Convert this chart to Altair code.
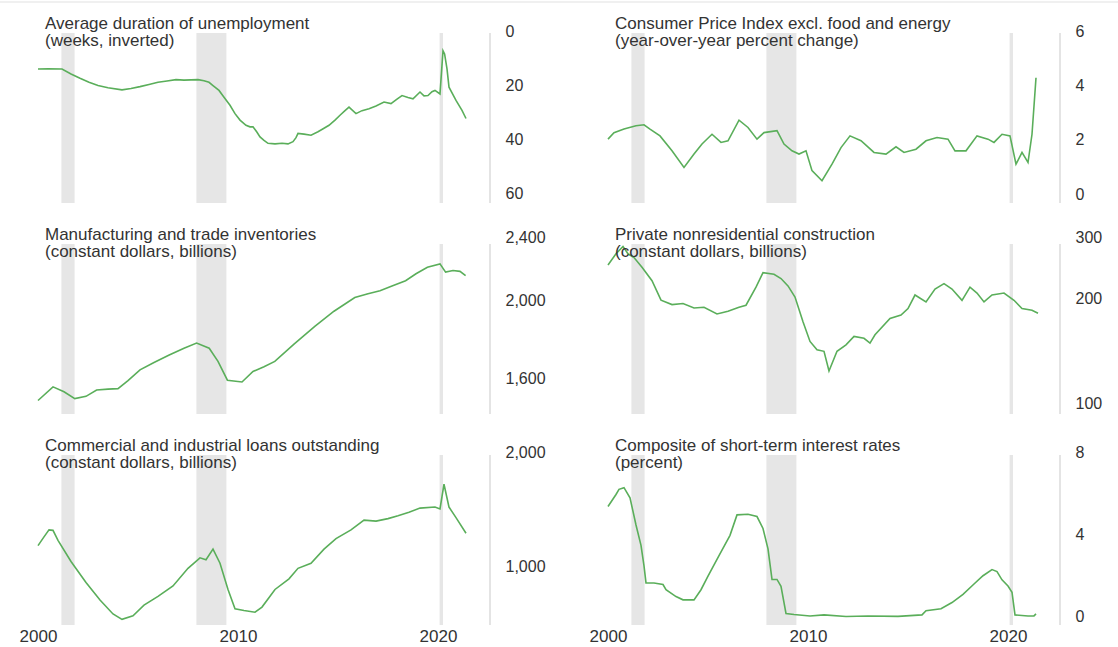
import altair as alt
import pandas as pd

# ---------------- data ----------------
rec_start = [2001.17, 2007.92, 2020.08]
rec_end = [2001.83, 2009.42, 2020.25]

titles = [
    ("Average duration of unemployment", "(weeks, inverted)"),
    ("Consumer Price Index excl. food and energy", "(year-over-year percent change)"),
    ("Manufacturing and trade inventories", "(constant dollars, billions)"),
    ("Private nonresidential construction", "(constant dollars, billions)"),
    ("Commercial and industrial loans outstanding", "(constant dollars, billions)"),
    ("Composite of short-term interest rates", "(percent)"),
]

duration = [(2000.0, 14.1), (2000.5, 14.0), (2001.2, 14.1), (2001.65, 15.9), (2002.1, 17.5),
            (2002.55, 19.0), (2003.0, 20.2), (2003.5, 21.0), (2004.2, 21.8), (2004.65, 21.3),
            (2005.1, 20.6), (2005.55, 19.8), (2006.0, 19.0), (2006.45, 18.5), (2006.9, 18.0),
            (2007.3, 18.2), (2007.65, 18.1), (2008.0, 18.0), (2008.3, 18.4), (2008.55, 19.0),
            (2008.75, 20.2), (2009.05, 22.0), (2009.3, 24.5), (2009.6, 27.5), (2009.85, 30.6),
            (2010.1, 33.0), (2010.4, 34.9), (2010.6, 35.5), (2010.75, 35.5), (2010.95, 37.5),
            (2011.1, 39.2), (2011.3, 40.5), (2011.5, 41.6), (2011.85, 41.8), (2012.2, 41.6),
            (2012.5, 41.8), (2012.75, 41.0), (2012.9, 39.5), (2013.0, 37.9), (2013.3, 38.2),
            (2013.65, 38.6), (2014.0, 37.3), (2014.3, 36.0), (2014.55, 34.9), (2014.85, 33.0),
            (2015.1, 31.2), (2015.35, 29.5), (2015.55, 28.2), (2015.9, 30.6), (2016.2, 29.5),
            (2016.55, 28.8), (2016.9, 27.8), (2017.3, 26.3), (2017.65, 26.9), (2017.95, 25.2),
            (2018.2, 23.9), (2018.5, 24.6), (2018.75, 25.1), (2019.1, 22.6), (2019.3, 24.0),
            (2019.5, 23.9), (2019.7, 22.5), (2019.85, 22.0), (2020.1, 23.3), (2020.25, 7.3),
            (2020.33, 8.5), (2020.45, 14.0), (2020.55, 20.8), (2020.9, 25.7), (2021.2, 29.4),
            (2021.4, 32.4)]

core_cpi = [(2000.0, 2.02), (2000.3, 2.26), (2000.8, 2.39), (2001.4, 2.51), (2001.8, 2.55),
            (2002.1, 2.39), (2002.6, 2.14), (2003.2, 1.59), (2003.8, 0.98), (2004.3, 1.47),
            (2004.7, 1.84), (2005.2, 2.2), (2005.65, 1.9), (2006.0, 1.96), (2006.55, 2.72),
            (2007.0, 2.45), (2007.45, 2.02), (2007.8, 2.26), (2008.45, 2.33), (2008.8, 1.84),
            (2009.2, 1.59), (2009.55, 1.47), (2009.9, 1.59), (2010.2, 0.86), (2010.7, 0.49),
            (2011.2, 1.1), (2011.65, 1.71), (2012.1, 2.14), (2012.65, 1.96), (2013.3, 1.53),
            (2013.9, 1.47), (2014.4, 1.74), (2014.8, 1.53), (2015.4, 1.65), (2015.9, 1.96),
            (2016.45, 2.08), (2017.0, 2.02), (2017.35, 1.59), (2017.9, 1.59), (2018.45, 2.14),
            (2019.0, 2.02), (2019.3, 1.9), (2019.7, 2.2), (2020.1, 2.14), (2020.4, 1.1),
            (2020.7, 1.53), (2021.0, 1.16), (2021.2, 2.2), (2021.4, 4.28)]

inventories = [(2000.0, 1502), (2000.75, 1562), (2001.3, 1540), (2001.84, 1510), (2002.4, 1520),
               (2002.93, 1548), (2003.5, 1552), (2004.0, 1554), (2004.5, 1590), (2005.1, 1640),
               (2005.8, 1675), (2006.56, 1711), (2007.3, 1745), (2007.93, 1771), (2008.56, 1745),
               (2009.0, 1680), (2009.47, 1592), (2010.2, 1584), (2010.75, 1632), (2011.3, 1655),
               (2011.84, 1680), (2012.8, 1765), (2013.84, 1858), (2014.8, 1940), (2015.84, 2018),
               (2016.5, 2040), (2017.1, 2057), (2017.7, 2085), (2018.38, 2117), (2018.9, 2160),
               (2019.47, 2201), (2020.1, 2222), (2020.38, 2170), (2020.75, 2180), (2021.1, 2175),
               (2021.38, 2148)]

construction = [(2000.0, 249.6), (2000.4, 268.6), (2000.75, 282), (2001.0, 268.6), (2001.3, 262),
                (2001.7, 246), (2002.2, 225), (2002.65, 198), (2003.2, 192.3), (2003.75, 193.6),
                (2004.3, 188), (2004.8, 189), (2005.45, 180.8), (2006.0, 184), (2006.55, 189),
                (2006.9, 191.5), (2007.4, 215.6), (2007.75, 237.3), (2008.3, 234.7), (2008.65, 228.3),
                (2009.0, 217.4), (2009.35, 202), (2009.75, 171.8), (2010.1, 150.9), (2010.45, 142.9),
                (2010.8, 141.4), (2011.05, 124.2), (2011.45, 141.4), (2011.9, 147.6), (2012.3, 155.9),
                (2012.8, 154), (2013.1, 149.3), (2013.35, 157.6), (2014.1, 175.6), (2014.65, 179.4),
                (2015.0, 187.4), (2015.35, 204.8), (2015.9, 195.7), (2016.35, 213), (2016.8, 220.8),
                (2017.2, 213), (2017.7, 197.8), (2018.1, 215.6), (2018.45, 207.5), (2018.8, 195.7),
                (2019.2, 204.8), (2019.8, 207.5), (2020.3, 197.8), (2020.7, 187.4), (2021.2, 185.3),
                (2021.5, 181.6)]

ci_loans = [(2000.0, 1132), (2000.3, 1194), (2000.55, 1246), (2000.75, 1242), (2001.0, 1169),
            (2001.65, 1028), (2002.4, 905), (2003.1, 813), (2003.75, 747), (2004.2, 723),
            (2004.75, 739), (2005.3, 788), (2006.0, 831), (2006.75, 886), (2007.5, 986),
            (2008.1, 1051), (2008.4, 1039), (2008.75, 1108), (2009.1, 1017), (2009.5, 867),
            (2009.85, 771), (2010.3, 763), (2010.85, 755), (2011.2, 779), (2011.85, 867),
            (2012.55, 925), (2013.0, 986), (2013.65, 1017), (2014.3, 1108), (2014.9, 1181),
            (2015.65, 1246), (2016.3, 1322), (2016.9, 1314), (2017.5, 1334), (2018.0, 1357),
            (2018.55, 1386), (2019.1, 1422), (2019.85, 1431), (2020.1, 1415), (2020.3, 1644),
            (2020.55, 1431), (2020.9, 1342), (2021.4, 1220)]

short_rates = [(2000.0, 5.36), (2000.4, 5.94), (2000.55, 6.19), (2000.8, 6.27), (2001.1, 5.78),
               (2001.4, 4.46), (2001.65, 3.47), (2001.8, 2.48), (2001.9, 1.65), (2002.3, 1.65),
               (2002.75, 1.57), (2002.9, 1.32), (2003.4, 0.99), (2003.75, 0.83), (2004.3, 0.83),
               (2004.65, 1.32), (2005.0, 1.98), (2005.55, 2.97), (2006.1, 3.96), (2006.45, 4.95),
               (2007.0, 4.98), (2007.45, 4.87), (2007.75, 4.29), (2008.0, 3.3), (2008.2, 1.82),
               (2008.45, 1.82), (2008.65, 1.49), (2008.9, 0.17), (2009.3, 0.12), (2010.1, 0.05),
               (2010.8, 0.1), (2011.9, 0.02), (2013.0, 0.05), (2014.5, 0.03), (2015.7, 0.1),
               (2015.9, 0.3), (2016.65, 0.4), (2017.2, 0.7), (2017.75, 1.1), (2018.3, 1.6),
               (2018.75, 2.0), (2019.2, 2.3), (2019.45, 2.2), (2019.7, 1.8), (2020.0, 1.5),
               (2020.2, 1.2), (2020.35, 0.1), (2021.0, 0.05), (2021.3, 0.05), (2021.4, 0.15)]

y_ticks = [[0, 20, 40, 60], [0, 2, 4, 6], [1600, 2000, 2400], [100, 200, 300], [1000, 2000], [0, 4, 8]]
x_ticks = [2000, 2010, 2020]

# ---------------- styling ----------------
FONT = "Liberation Sans"
GREEN = "#5aae5a"
BAND = "#e6e6e6"
TEXT = "#333333"
W, H = 452, 170
X_DOMAIN = [2000, 2022.6]

# the top tick label of each panel sits a few pixels above the plotting area
scales = [
    alt.Scale(domain=[0, 63.7], range=[-2, H], nice=False, zero=False),
    alt.Scale(domain=[-0.33, 6], range=[H, -2], nice=False, zero=False),
    alt.Scale(type="log", domain=[1445, 2400], range=[H, -7], nice=False),
    alt.Scale(type="log", domain=[93.6, 300], range=[H, -7], nice=False),
    alt.Scale(type="log", domain=[698.6, 2000], range=[H, -3], nice=False),
    alt.Scale(domain=[-0.39, 8], range=[H, -3], nice=False, zero=False),
]
series = [duration, core_cpi, inventories, construction, ci_loans, short_rates]

rec_df = pd.DataFrame({"start": rec_start, "end": rec_end})


def panel(i, show_x):
    df = pd.DataFrame(series[i], columns=["year", "value"])
    xscale = alt.Scale(domain=X_DOMAIN, nice=False, zero=False)
    if show_x:
        xaxis = alt.Axis(values=x_ticks, format="d", title=None, grid=False, ticks=False,
                         domain=False, labelFontSize=17, labelColor=TEXT, labelFont=FONT,
                         labelPadding=3, labelFlush=False)
    else:
        xaxis = None
    bands = alt.Chart(rec_df).mark_rect(color=BAND).encode(
        x=alt.X("start:Q", scale=xscale, axis=xaxis),
        x2="end:Q",
        y=alt.value(0),
        y2=alt.value(H),
    )
    edge = alt.Chart(rec_df.head(1)).mark_rule(color="#e4e4e4", strokeWidth=2).encode(
        x=alt.value(W), y=alt.value(0), y2=alt.value(H))
    line = alt.Chart(df).mark_line(color=GREEN, strokeWidth=1.6).encode(
        x=alt.X("year:Q", scale=xscale, axis=xaxis),
        y=alt.Y("value:Q", scale=scales[i],
                axis=alt.Axis(orient="right", values=y_ticks[i], format=",.0f", title=None,
                              grid=False, ticks=False, domain=False, labelFontSize=16,
                              labelColor=TEXT, labelFont=FONT, labelPadding=15,
                              labelBaseline="middle", labelAlign="left", labelFlush=False,
                              labelBound=False)),
    )
    tdf = pd.DataFrame({"l1": [titles[i][0]], "l2": [titles[i][1]]})
    t1 = alt.Chart(tdf).mark_text(align="left", baseline="alphabetic", fontSize=17,
                                  font=FONT, color=TEXT).encode(
        x=alt.value(7), y=alt.value(-4), text="l1:N")
    t2 = alt.Chart(tdf).mark_text(align="left", baseline="alphabetic", fontSize=17,
                                  font=FONT, color=TEXT).encode(
        x=alt.value(7), y=alt.value(13), text="l2:N")
    layers = [bands, edge, line, t1, t2]
    if i == 0:
        # faint border line along the top of the figure
        top = alt.Chart(rec_df.head(1)).mark_rule(color="#ebebeb", strokeWidth=1.5).encode(
            x=alt.value(-38), x2=alt.value(1080), y=alt.value(-31))
        layers.append(top)
    return alt.layer(*layers).properties(width=W, height=H)


panels = [panel(i, i >= 4) for i in range(6)]

chart = alt.concat(*panels, columns=2, spacing={"row": 41, "column": 118},
                   bounds="flush").properties(
    autosize=alt.AutoSizeParams(type="none"),
    padding={"left": 38, "top": 33, "right": 1118 - 38, "bottom": 647 - 33},
    background="white",
).configure_view(stroke=None)

chart.save("out.html", embed_options={"renderer": "svg", "actions": False})
